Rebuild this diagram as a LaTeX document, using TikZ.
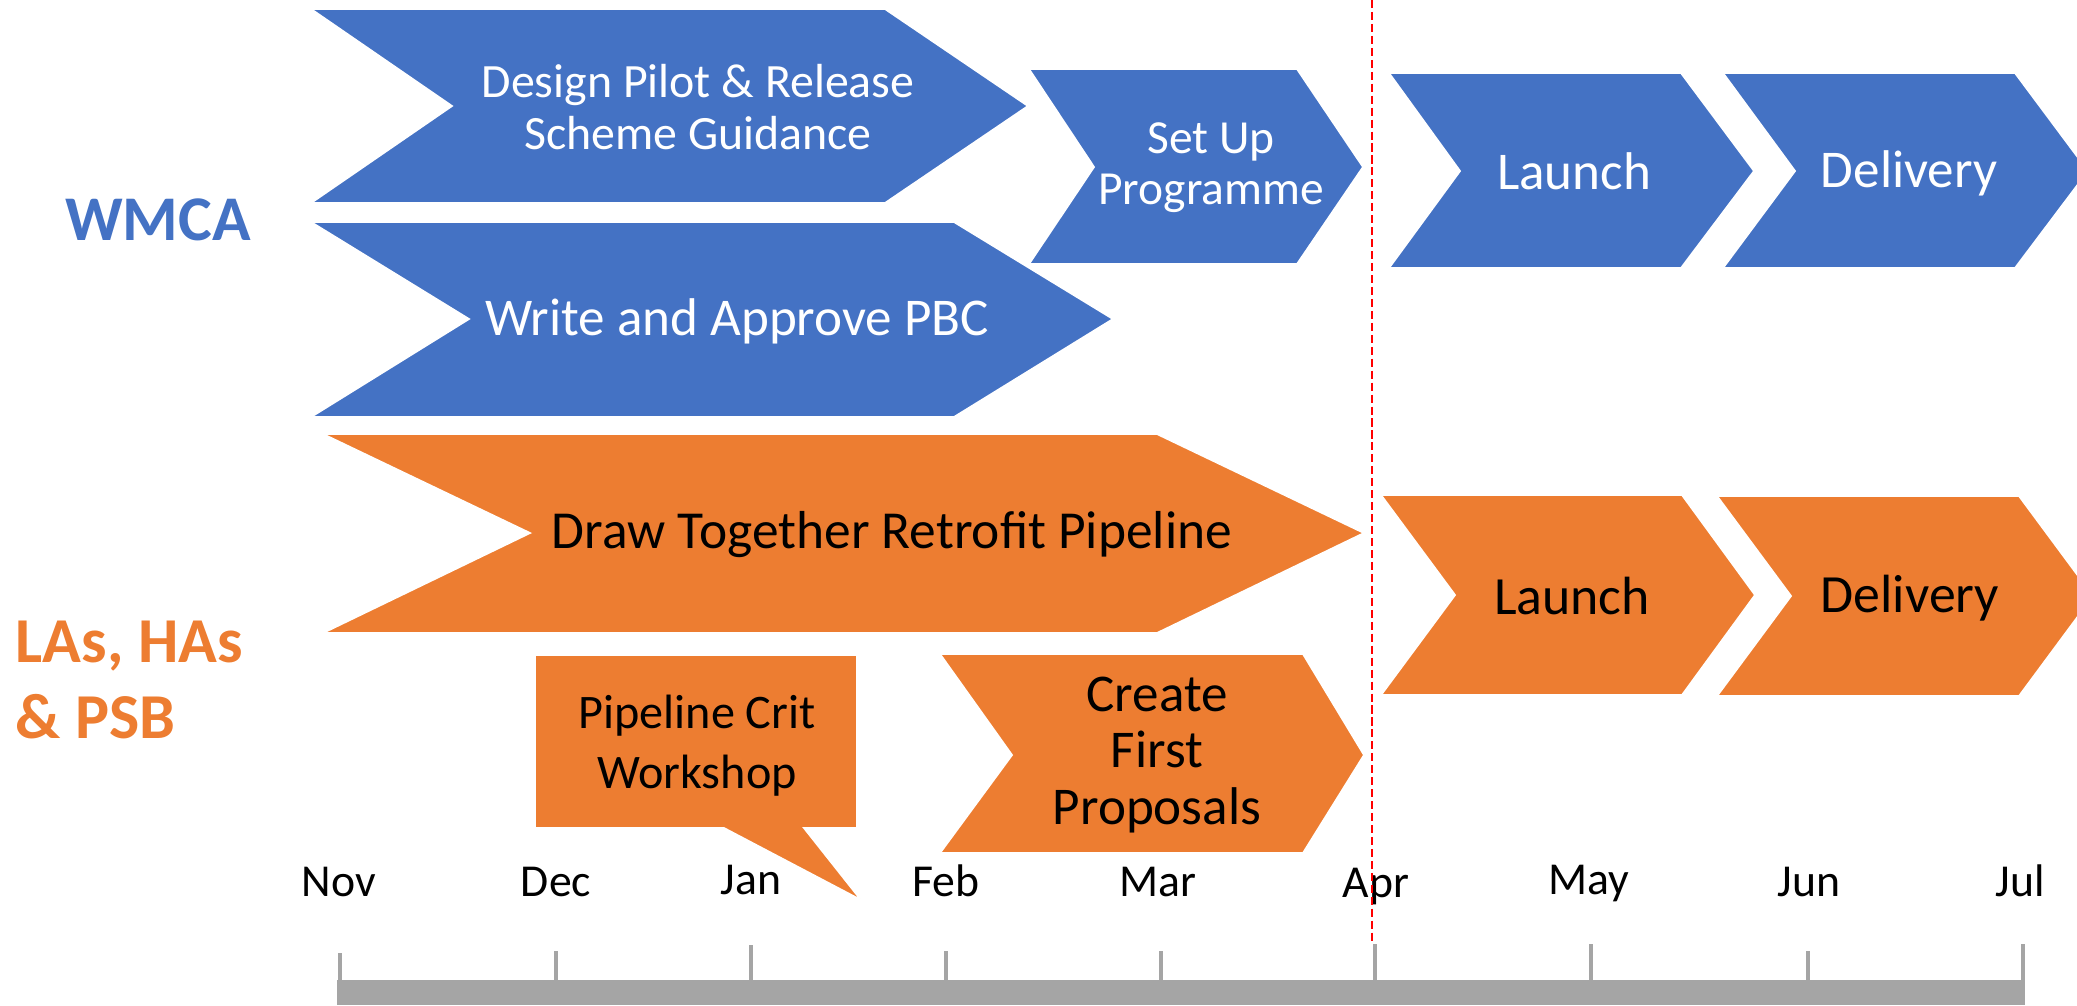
\documentclass[tikz,border=0pt]{standalone}
\usepackage{fontspec}
\setmainfont{Carlito}
\usepackage{tikz}
\definecolor{wmblue}{HTML}{4472C4}
\definecolor{laorange}{HTML}{ED7D31}
\definecolor{axisgrey}{HTML}{A5A5A5}

\begin{document}
\begin{tikzpicture}[x=0.01cm, y=-0.01cm,
        bluechev/.style={fill=wmblue, draw=white, line width=0.5pt},
        orangechev/.style={fill=laorange, draw=white, line width=0.5pt},
        wlabel/.style={text=white, align=center, inner sep=0pt},
        blabel/.style={text=black, align=center, inner sep=0pt},
        monthlabel/.style={anchor=base, inner sep=0pt, font=\fontsize{13}{15}\selectfont},
        axistick/.style={draw=axisgrey, line width=1.1pt}]
        \useasboundingbox (0,0) rectangle (2077,1005);
        \fill[bluechev] (311,9) -- (885,9) -- (1028,106) -- (885,203) -- (311,203) -- (452,106) -- cycle;
        \fill[bluechev] (311,222) -- (954,222) -- (1113,319) -- (954,417) -- (311,417) -- (469,319) -- cycle;
        \fill[bluechev] (1029,69) -- (1297,69) -- (1363,167) -- (1297,264) -- (1029,264) -- (1094,167) -- cycle;
        \fill[bluechev] (1389,73) -- (1681,73) -- (1754,171) -- (1681,268) -- (1389,268) -- (1460,171) -- cycle;
        \fill[bluechev] (1723,73) -- (2015,73) -- (2088,171) -- (2015,268) -- (1723,268) -- (1795,171) -- cycle;
        \node[wlabel, font=\fontsize{13.6}{15}\selectfont] (design) at (698,107) {Design Pilot \& Release\\Scheme Guidance};
        \node[wlabel, font=\fontsize{15.1}{17}\selectfont] (pbc) at (737,321) {Write and Approve PBC};
        \node[wlabel, font=\fontsize{13.5}{14.5}\selectfont] (setup) at (1211,168) {Set Up\\Programme};
        \node[wlabel, font=\fontsize{15.1}{17}\selectfont] (launchw) at (1574,171) {Launch};
        \node[wlabel, font=\fontsize{15.1}{17}\selectfont] (deliveryw) at (1909,173) {Delivery};
        \node[text=wmblue, inner sep=0pt, font=\bfseries\fontsize{18.1}{21}\selectfont] (wmca) at (158,220) {WMCA};
        \fill[orangechev] (323,434) -- (1157,434) -- (1364,533) -- (1157,633) -- (323,633) -- (530,533) -- cycle;
        \fill[orangechev] (940,654) -- (1303,654) -- (1364,755) -- (1303,853) -- (940,853) -- (1012,755) -- cycle;
        \fill[orangechev] (1381,495) -- (1682,495) -- (1755,595) -- (1682,695) -- (1381,695) -- (1455,595) -- cycle;
        \fill[orangechev] (1717,496) -- (2019,496) -- (2093,596) -- (2019,696) -- (1717,696) -- (1791,596) -- cycle;
        \fill[orangechev] (535,655) -- (857,655) -- (857,828) -- (804,828) -- (861,900) -- (724,828) -- (535,828) -- cycle;
        \node[blabel, font=\fontsize{15.2}{17}\selectfont] (pipeline) at (892,535) {Draw Together Retrofit Pipeline};
        \node[blabel, font=\fontsize{13.7}{17}\selectfont] (workshop) at (697,746) {Pipeline Crit\\Workshop};
        \node[blabel, font=\fontsize{15.1}{16.2}\selectfont] (proposals) at (1157,755) {Create\\First\\Proposals};
        \node[blabel, font=\fontsize{15.3}{17}\selectfont] (launcho) at (1572,596) {Launch};
        \node[blabel, font=\fontsize{15.3}{17}\selectfont] (deliveryo) at (1910,598) {Delivery};
        \node[text=laorange, align=left, anchor=west, inner sep=0pt, font=\bfseries\fontsize{18.2}{21.6}\selectfont] (partners) at (15,680) {LAs, HAs\\\& PSB};
        \fill[axisgrey] (337,980) rectangle (2025,1005);
        \draw[axistick] (340,953) -- (340,980);
        \draw[axistick] (556,951) -- (556,980);
        \draw[axistick] (751,945) -- (751,980);
        \draw[axistick] (946,951) -- (946,980);
        \draw[axistick] (1161,951) -- (1161,980);
        \draw[axistick] (1375,944) -- (1375,980);
        \draw[axistick] (1591,944) -- (1591,980);
        \draw[axistick] (1808,951) -- (1808,980);
        \draw[axistick] (2023,944) -- (2023,980);
        \node[monthlabel] (nov) at (339,896) {Nov};
        \node[monthlabel] (dec) at (556,896) {Dec};
        \node[monthlabel] (jan) at (751,894) {Jan};
        \node[monthlabel] (feb) at (946,896) {Feb};
        \node[monthlabel] (mar) at (1158,896) {Mar};
        \node[monthlabel] (apr) at (1376,897) {Apr};
        \node[monthlabel] (may) at (1589,894) {May};
        \node[monthlabel] (jun) at (1809,896) {Jun};
        \node[monthlabel] (jul) at (2020,896) {Jul};
        \draw[red, line width=0.45pt, dash pattern=on 2.3pt off 1.1pt] (1372,0) -- (1372,942);
\end{tikzpicture}
\end{document}
